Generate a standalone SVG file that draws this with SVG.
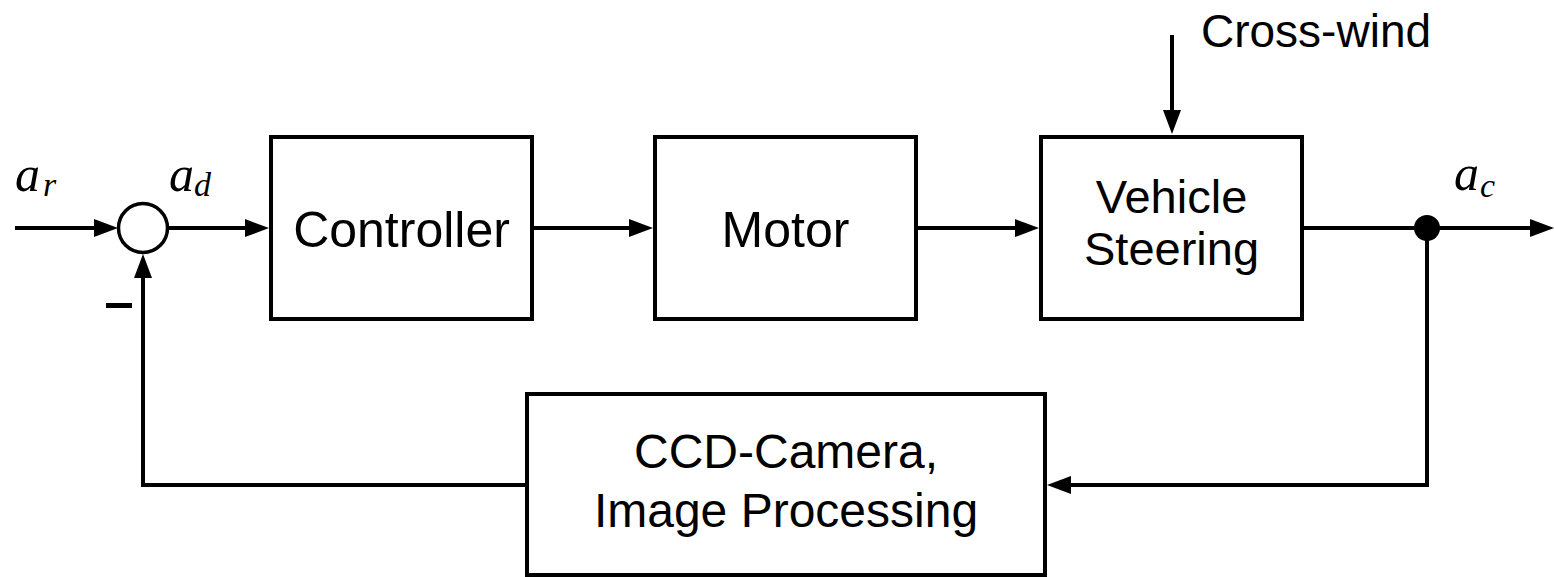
<svg xmlns="http://www.w3.org/2000/svg" width="1554" height="577" viewBox="0 0 1554 577">
  <style>
    .box { fill: #ffffff; stroke: #000000; stroke-width: 4; }
    .wire { fill: none; stroke: #000000; stroke-width: 4; }
    .label { font-family: "Liberation Sans", Arial, sans-serif; fill: #000000; text-anchor: middle; }
    .math { font-family: "Liberation Serif", "Times New Roman", serif; font-style: italic; fill: #000000; }
  </style>
  <defs>
    <marker id="arrow" markerUnits="userSpaceOnUse" markerWidth="24" markerHeight="18" refX="12" refY="9" orient="auto">
      <path d="M0,0 L24,9 L0,18 Z" fill="#000000"/>
    </marker>
  </defs>

  <rect x="0" y="0" width="1554" height="577" fill="#ffffff"/>

  <!-- signal lines -->
  <g id="connectors">
    <line class="wire" x1="15" y1="228" x2="106" y2="228" marker-end="url(#arrow)"/>
    <line class="wire" x1="168" y1="228" x2="257" y2="228" marker-end="url(#arrow)"/>
    <line class="wire" x1="532" y1="228" x2="641" y2="228" marker-end="url(#arrow)"/>
    <line class="wire" x1="916" y1="228" x2="1027" y2="228" marker-end="url(#arrow)"/>
    <line class="wire" x1="1302" y1="228" x2="1542" y2="228" marker-end="url(#arrow)"/>
    <line class="wire" x1="1172" y1="35" x2="1172" y2="122" marker-end="url(#arrow)"/>
    <path class="wire" d="M1427,228 V485 H1059" marker-end="url(#arrow)"/>
    <path class="wire" d="M527,485 H143 V266" marker-end="url(#arrow)"/>
  </g>

  <!-- summing junction -->
  <g id="sum">
    <circle cx="143" cy="228" r="24.5" fill="#ffffff" stroke="#000000" stroke-width="3.5"/>
    <rect x="106" y="303" width="26" height="5" fill="#000000"/>
  </g>

  <!-- branch point -->
  <g id="branch">
    <circle cx="1427" cy="228" r="13" fill="#000000"/>
  </g>

  <g id="controller">
    <rect class="box" x="271" y="137" width="261" height="182"/>
    <text class="label" x="401.5" y="247" font-size="50">Controller</text>
  </g>

  <g id="motor">
    <rect class="box" x="655" y="137" width="261" height="182"/>
    <text class="label" x="785.5" y="247" font-size="50">Motor</text>
  </g>

  <g id="vehicle">
    <rect class="box" x="1041" y="137" width="261" height="182"/>
    <text class="label" x="1171.5" y="213" font-size="47">Vehicle</text>
    <text class="label" x="1171.5" y="265" font-size="47">Steering</text>
  </g>

  <g id="camera">
    <rect class="box" x="527" y="394" width="518" height="181"/>
    <text class="label" x="786" y="468" font-size="48">CCD-Camera,</text>
    <text class="label" x="786" y="527" font-size="48">Image Processing</text>
  </g>

  <g id="crosswind">
    <text x="1201" y="47" font-family="Liberation Sans, Arial, sans-serif" font-size="46">Cross-wind</text>
  </g>

  <!-- signal names -->
  <g id="signals">
    <text class="math" x="15" y="191" font-size="50">a</text>
    <text class="math" x="43" y="196" font-size="34">r</text>
    <text class="math" x="169" y="191" font-size="50">a</text>
    <text class="math" x="194" y="196" font-size="34">d</text>
    <text class="math" x="1454" y="190" font-size="50">a</text>
    <text class="math" x="1480" y="197" font-size="34">c</text>
  </g>
</svg>
